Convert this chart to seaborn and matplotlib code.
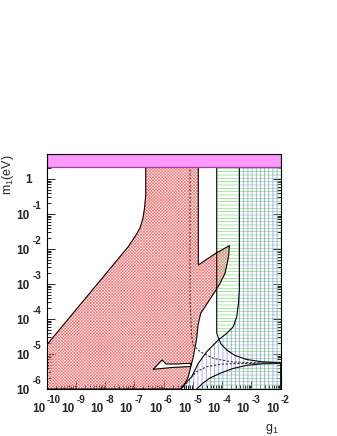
import numpy as np
import pandas as pd
import matplotlib
matplotlib.use("Agg")
import matplotlib.pyplot as plt
from matplotlib.ticker import FixedLocator, LogLocator, NullFormatter
from matplotlib.transforms import ScaledTranslation
import seaborn as sns

# ---------------- data (log10 of g1 and of m1 [eV]) ----------------
x_lim_exp = [-10.0, -2.0]
y_lim_exp = [-6.0, 0.714]
x_tick_exp = [-10, -9, -8, -7, -6, -5, -4, -3, -2]
y_tick_exp = [-6, -5, -4, -3, -2, -1, 0]

# magenta band at the top
band_exp = [0.351, 0.714]

# red cross-hatched excluded region
red_lg = [-10.0, -10.0, -7.22, -6.947, -6.81, -6.708, -6.656, -6.615, -6.615,
          -4.817, -4.817, -4.222, -3.757, -3.778, -3.826, -3.904, -4.075, -4.212,
          -4.735, -4.827, -4.872, -4.988, -5.159, -5.33, -5.409]
red_lm = [-6.0, -4.743, -1.943, -1.6, -1.4, -1.114, -0.829, -0.457, 0.714,
          0.714, -2.457, -2.123, -1.906, -2.171, -2.4, -2.694, -2.98, -3.171,
          -3.837, -4.171, -4.551, -5.077, -5.649, -5.934, -6.0]

# small white "beak" inside the red region
beak_lg = [-6.355, -6.06, -5.921, -5.579, -5.067, -5.084, -5.716, -6.355]
beak_lm = [-5.437, -5.171, -5.286, -5.286, -5.266, -5.357, -5.386, -5.437]

# green (horizontal lines) region, upper lobe
green_up_lg = [-4.188, -4.188, -4.144, -4.041, -3.846, -3.562, -3.162, -2.639, -2.0, -2.0]
green_up_lm = [0.714, -4.4, -4.514, -4.714, -4.886, -5.043, -5.157, -5.223, -5.251, 0.714]

# green region, lower lobe
green_lo_lg = [-4.872, -4.656, -4.417, -4.075, -3.63, -3.162, -2.639, -2.0, -2.0]
green_lo_lm = [-6.0, -5.829, -5.686, -5.551, -5.414, -5.323, -5.28, -5.266, -6.0]

# blue (vertical lines) region
blue_lg = [-5.443, -5.043, -4.817, -4.53, -4.133, -3.846, -3.621, -3.504, -3.443,
           -3.415, -3.415, -2.0, -2.0]
blue_lm = [-6.0, -5.649, -5.266, -4.934, -4.6, -4.409, -4.22, -3.934, -3.543,
           -3.171, 0.714, 0.714, -6.0]

# dashed curves
dash1_lg = [-5.101, -5.101, -5.05, -4.998, -4.759, -4.304, -3.733, -3.05, -2.0]
dash1_lm = [0.714, -3.457, -4.457, -4.743, -4.934, -5.123, -5.22, -5.249, -5.257]
dash2_lg = [-5.238, -4.896, -4.53, -4.075, -3.391, -2.0]
dash2_lm = [-5.857, -5.514, -5.363, -5.294, -5.271, -5.26]

x_title = r"$\mathregular{g_1}$"
y_title = r"$\mathregular{m_1(eV)}$"

# ---------------- style ----------------
sns.set_theme(style="ticks")
plt.rcParams["font.family"] = ["Liberation Sans", "DejaVu Sans"]
plt.rcParams["hatch.linewidth"] = 0.5
plt.rcParams["axes.linewidth"] = 0.8

fig = plt.figure(figsize=(3.37, 4.36), dpi=100)
ax = fig.add_axes([0.1386, 0.1078, 0.6944, 0.539])
ax.set_xscale("log")
ax.set_yscale("log")


def pw(v):
    return 10.0 ** np.asarray(v, dtype=float)


# hatched regions
ax.fill(pw(red_lg), pw(red_lm), facecolor="none", edgecolor="#ff7575",
        hatch="x" * 11, linewidth=0, zorder=1.0)
ax.fill(pw(green_up_lg), pw(green_up_lm), facecolor="none", edgecolor="#80e080",
        hatch="-----", linewidth=0, zorder=1.1)
ax.fill(pw(green_lo_lg), pw(green_lo_lm), facecolor="none", edgecolor="#80e080",
        hatch="-----", linewidth=0, zorder=1.1)
ax.fill(pw(blue_lg), pw(blue_lm), facecolor="none", edgecolor="#8c8cf5",
        hatch="||||", linewidth=0, zorder=1.2)
ax.fill(pw(beak_lg), pw(beak_lm), facecolor="white", edgecolor="none", zorder=1.3)


def outline(lg, lm, **kw):
    df = pd.DataFrame({"g": pw(lg), "m": pw(lm)})
    sns.lineplot(data=df, x="g", y="m", sort=False, estimator=None, ax=ax, **kw)


outline(red_lg + [red_lg[0]], red_lm + [red_lm[0]], color="black", linewidth=0.8, zorder=2.0)
outline(beak_lg, beak_lm, color="black", linewidth=0.8, zorder=2.0)
outline(green_up_lg[:-1], green_up_lm[:-1], color="black", linewidth=0.8, zorder=2.0)
outline(green_lo_lg, green_lo_lm, color="black", linewidth=0.8, zorder=2.0)
outline(blue_lg[:-2], blue_lm[:-2], color="black", linewidth=0.8, zorder=2.0)
outline(dash1_lg, dash1_lm, color="#333333", linewidth=0.8, linestyle=(0, (2, 1.5)), zorder=2.0)
outline(dash2_lg, dash2_lm, color="#333333", linewidth=0.8, linestyle=(0, (2, 1.5)), zorder=2.0)

# magenta band
ax.axhspan(10 ** band_exp[0], 10 ** band_exp[1], facecolor="#ff99ff",
           edgecolor="#a040a0", linewidth=0.9, zorder=2.3)

ax.set_xlim(10 ** x_lim_exp[0], 10 ** x_lim_exp[1])
ax.set_ylim(10 ** y_lim_exp[0], 10 ** y_lim_exp[1])

# ticks
ax.xaxis.set_major_locator(FixedLocator(pw(x_tick_exp)))
ax.yaxis.set_major_locator(FixedLocator(pw(y_tick_exp)))
ax.xaxis.set_minor_locator(LogLocator(base=10, subs=np.arange(2, 10), numticks=50))
ax.yaxis.set_minor_locator(LogLocator(base=10, subs=np.arange(2, 10), numticks=50))
ax.xaxis.set_minor_formatter(NullFormatter())
ax.yaxis.set_minor_formatter(NullFormatter())
ax.set_xticklabels([])
ax.set_yticklabels([])
ax.tick_params(which="both", direction="in", top=True, right=True, color="black", width=0.6)
ax.tick_params(which="major", length=5.5)
ax.tick_params(which="minor", length=2.8)

# ROOT-style power-of-ten labels: "10" plus a raised exponent
BASE_FS = 8.5
EXP_FS = 7.0


def px(dx, dy):
    return ScaledTranslation(dx / 100.0, dy / 100.0, fig.dpi_scale_trans)


xt = ax.get_xaxis_transform()
for e in x_tick_exp:
    ax.text(10.0 ** e, 0, "10", transform=xt + px(-1.5, -22.7), ha="right", va="baseline",
            fontsize=BASE_FS, fontweight="bold", clip_on=False)
    ax.text(10.0 ** e, 0, "-%d" % abs(e), transform=xt + px(0.3, -13.7), ha="left",
            va="baseline", fontsize=EXP_FS, fontweight="bold", clip_on=False)

yt = ax.get_yaxis_transform()
for e in y_tick_exp:
    if e == 0:
        ax.text(0, 10.0 ** e, "1", transform=yt + px(31.5 - 46.7, -4.0), ha="right",
                va="baseline", fontsize=BASE_FS, fontweight="bold", clip_on=False)
    else:
        ax.text(0, 10.0 ** e, "10", transform=yt + px(29.6 - 46.7, -5.0), ha="right",
                va="baseline", fontsize=BASE_FS, fontweight="bold", clip_on=False)
        ax.text(0, 10.0 ** e, "-%d" % abs(e), transform=yt + px(33.0 - 46.7, 5.0), ha="left",
                va="baseline", fontsize=EXP_FS, fontweight="bold", clip_on=False)

for s in ax.spines.values():
    s.set_color("black")
    s.set_zorder(2.6)

ax.set_xlabel(x_title, fontsize=9, loc="right", va="baseline")
ax.xaxis.set_label_coords(0.992, -0.179)
ax.set_ylabel(y_title, fontsize=9, loc="top")
ax.yaxis.set_label_coords(-0.133, 1.0)

fig.savefig("out.png", dpi=100)
